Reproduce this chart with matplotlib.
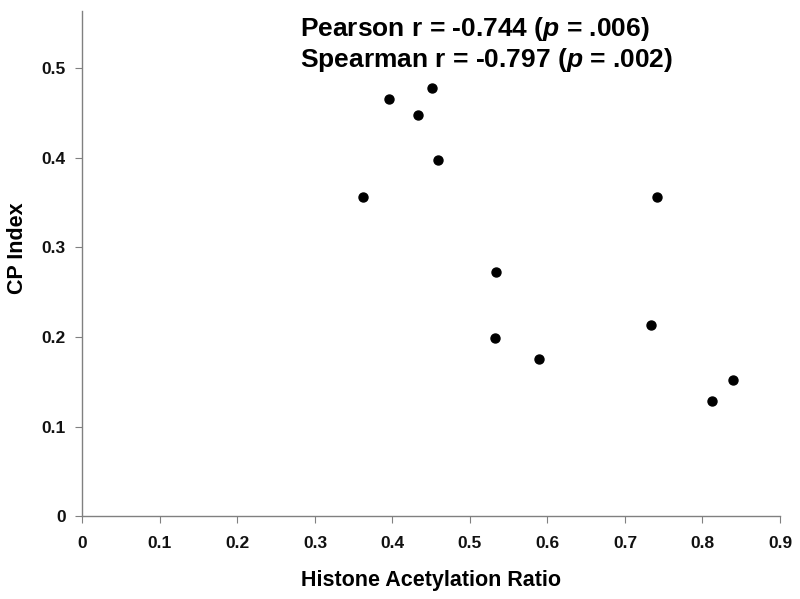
import matplotlib
matplotlib.use("Agg")
import matplotlib.pyplot as plt

# Histone acetylation ratio vs CP index
acetylation = [0.362, 0.396, 0.451, 0.433, 0.459, 0.741,
               0.534, 0.532, 0.589, 0.734, 0.839, 0.812]
cp_index = [0.356, 0.466, 0.478, 0.448, 0.397, 0.356,
            0.273, 0.199, 0.175, 0.214, 0.152, 0.129]

x_ticks = [0, 0.1, 0.2, 0.3, 0.4, 0.5, 0.6, 0.7, 0.8, 0.9]
x_ticklabels = ["0", "0.1", "0.2", "0.3", "0.4", "0.5", "0.6", "0.7", "0.8", "0.9"]
y_ticks = [0, 0.1, 0.2, 0.3, 0.4, 0.5]
y_ticklabels = ["0", "0.1", "0.2", "0.3", "0.4", "0.5"]

plt.rcParams['font.family'] = ['Liberation Sans', 'DejaVu Sans']
plt.rcParams['font.weight'] = 'bold'
plt.rcParams['mathtext.fontset'] = 'custom'
plt.rcParams['mathtext.it'] = 'Liberation Sans:italic'
plt.rcParams['mathtext.rm'] = 'Liberation Sans:bold'

fig = plt.figure(figsize=(8, 5.99), dpi=100)
ax = fig.add_axes([0.1031, 0.138, 0.8719, 0.844])

ax.scatter(acetylation, cp_index, s=42, color='black', zorder=3)

ax.set_xlim(0, 0.9)
ax.set_ylim(0, 0.564)
ax.set_xticks(x_ticks)
ax.set_xticklabels(x_ticklabels)
ax.set_yticks(y_ticks)
ax.set_yticklabels(y_ticklabels)

for side in ['top', 'right']:
    ax.spines[side].set_visible(False)
for side in ['left', 'bottom']:
    ax.spines[side].set_color('#808080')
    ax.spines[side].set_linewidth(1.0)
ax.tick_params(direction='out', length=5, width=0.8, color='#808080',
               labelsize=12.5, labelcolor='#111111')
ax.tick_params(axis='x', pad=9)
ax.tick_params(axis='y', pad=7)

ax.set_xlabel("Histone Acetylation Ratio", fontsize=15.5, fontweight='bold')
ax.set_ylabel("CP Index", fontsize=15.5, fontweight='bold')
ax.xaxis.set_label_coords(0.5, -0.106)
ax.yaxis.set_label_coords(-0.078, 0.531)

fig.text(300 / 800, 1 - 29 / 599, r"Pearson r = -0.744 ($\mathit{p}$ = .006)",
         fontsize=19, fontweight='bold', va='center', ha='left')
fig.text(300 / 800, 1 - 60 / 599, r"Spearman r = -0.797 ($\mathit{p}$ = .002)",
         fontsize=19, fontweight='bold', va='center', ha='left')

fig.savefig("out.png", dpi=100)
